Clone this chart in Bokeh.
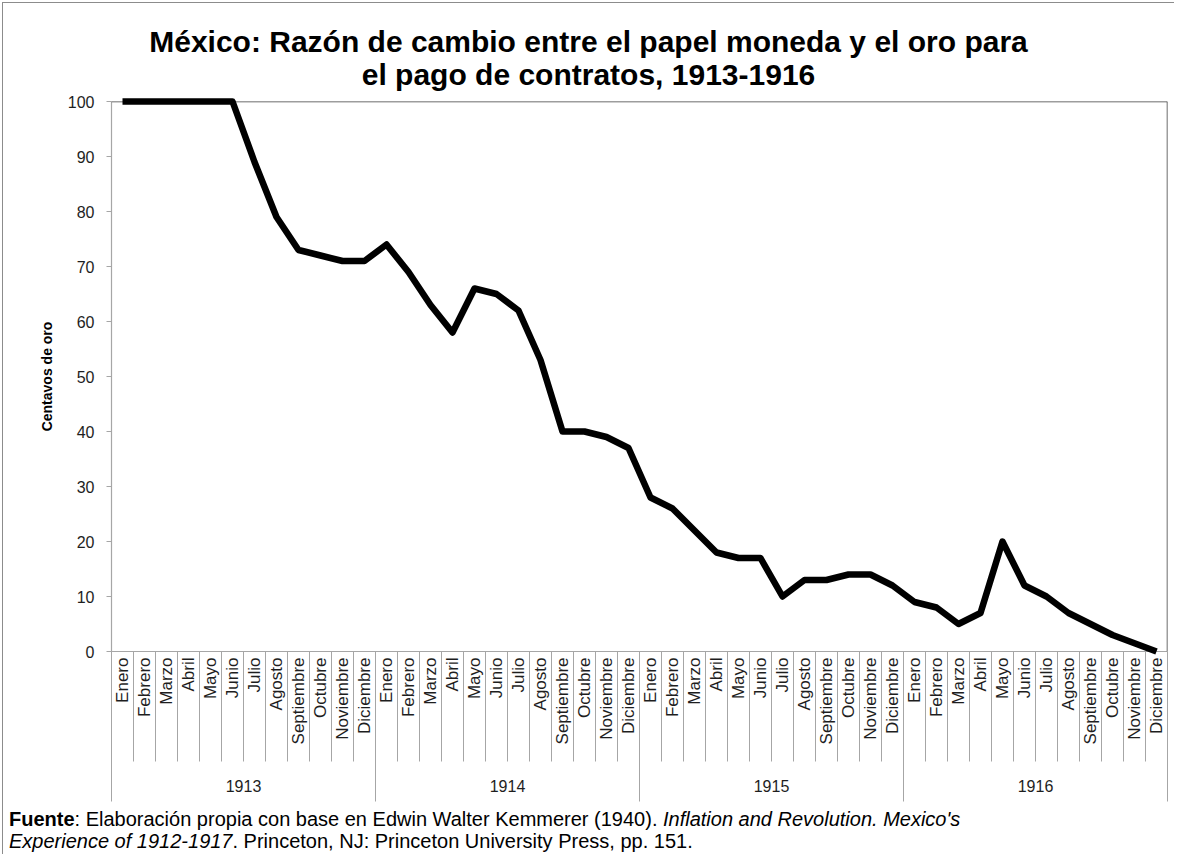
import math
from bokeh.plotting import figure
from bokeh.models import LinearAxis, FixedTicker, Range1d, Div, Span
from bokeh.layouts import column
from bokeh.embed import file_html
from bokeh.resources import INLINE

# ---------------- data ----------------
years = ["1913", "1914", "1915", "1916"]
months = ["Enero", "Febrero", "Marzo", "Abril", "Mayo", "Junio", "Julio",
          "Agosto", "Septiembre", "Octubre", "Noviembre", "Diciembre"]
values_1913 = [100, 100, 100, 100, 100, 100, 89, 79, 73, 72, 71, 71]
values_1914 = [74, 69, 63, 58, 66, 65, 62, 53, 40, 40, 39, 37]
values_1915 = [28, 26, 22, 18, 17, 17, 10, 13, 13, 14, 14, 12]
values_1916 = [9, 8, 5, 7, 20, 12, 10, 7, 5, 3, 1.5, 0]
y_ticks = [0, 10, 20, 30, 40, 50, 60, 70, 80, 90, 100]
title_lines = ["México: Razón de cambio entre el papel moneda y el oro para",
               "el pago de contratos, 1913-1916"]
y_label = "Centavos de oro"

values = values_1913 + values_1914 + values_1915 + values_1916
n = len(values)
nm = len(months)
x_pos = [i + 0.5 for i in range(n)]
month_labels = {i + 0.5: months[i % nm] for i in range(n)}
month_bounds = [float(i) for i in range(n + 1)]
year_centers = [k * nm + nm / 2 for k in range(len(years))]
year_labels = {year_centers[k]: years[k] for k in range(len(years))}
year_bounds = [float(k * nm) for k in range(len(years) + 1)]

FONT = "Liberation Sans"
GRID = "#a6a6a6"
DARK = "#3c3c3c"
TXT = "#1e1e1e"
FRAME_H = 550
MONTH_SEP = 110   # px below the frame
YEAR_SEP = 150    # px below the frame

# ---------------- figure ----------------
p = figure(frame_width=1056, frame_height=FRAME_H,
           x_range=Range1d(0, n), y_range=Range1d(0, 100),
           x_axis_location=None, y_axis_location=None,
           output_backend="svg", toolbar_location=None,
           min_border_left=108, min_border_right=7,
           min_border_top=10, min_border_bottom=155,
           background_fill_color="white", border_fill_color="white",
           margin=(0, 0, 0, 0))
p.outline_line_color = None
p.xgrid.visible = False
p.ygrid.visible = False
# pixel-unit range used for the category separators below the frame
p.extra_y_ranges = {"px": Range1d(0, FRAME_H)}

# separators of the two-level category axis
p.segment(x0=month_bounds, y0=[0] * len(month_bounds),
          x1=month_bounds, y1=[-MONTH_SEP] * len(month_bounds),
          y_range_name="px", line_color=GRID, line_width=1, level="overlay")
p.segment(x0=year_bounds, y0=[0] * len(year_bounds),
          x1=year_bounds, y1=[-YEAR_SEP] * len(year_bounds),
          y_range_name="px", line_color=GRID, line_width=1, level="overlay")

p.line(x_pos, values, line_width=6.5, line_color="black",
       line_join="round", line_cap="butt", level="overlay")

# top / right frame borders
p.add_layout(Span(location=100, dimension="width", line_color=DARK, line_width=1.5))
p.add_layout(Span(location=n, dimension="height", line_color=DARK, line_width=1.5))

# y axis
yax = LinearAxis(ticker=FixedTicker(ticks=y_ticks, minor_ticks=[]),
                 axis_line_color=GRID, axis_line_width=1.2,
                 major_tick_line_color=GRID, major_tick_out=5, major_tick_in=0,
                 minor_tick_out=0, minor_tick_in=0,
                 major_label_text_font=FONT, major_label_text_font_size="16px",
                 major_label_text_color=TXT, major_label_standoff=12,
                 axis_label=y_label, axis_label_text_font=FONT,
                 axis_label_text_font_size="14px", axis_label_text_font_style="bold",
                 axis_label_text_color="#000000", axis_label_standoff=10)
p.add_layout(yax, "left")

# month labels
xax = LinearAxis(ticker=FixedTicker(ticks=x_pos, minor_ticks=[]),
                 major_label_overrides=month_labels,
                 major_label_orientation=math.pi / 2,
                 axis_line_color=GRID, axis_line_width=1.2,
                 major_tick_out=0, major_tick_in=0,
                 minor_tick_out=0, minor_tick_in=0,
                 major_label_text_font=FONT, major_label_text_font_size="17px",
                 major_label_text_color=TXT, major_label_standoff=6)
p.add_layout(xax, "below")

# year labels
yrax = LinearAxis(ticker=FixedTicker(ticks=year_centers, minor_ticks=[]),
                  major_label_overrides=year_labels,
                  axis_line_color=None,
                  major_tick_out=0, major_tick_in=0,
                  minor_tick_out=0, minor_tick_in=0,
                  major_label_text_font=FONT, major_label_text_font_size="16px",
                  major_label_text_color=TXT, major_label_standoff=32)
p.add_layout(yrax, "below")

title_div = Div(
    text=("<div style=\"font-family:'Liberation Sans',Arial,sans-serif;font-weight:bold;"
          "font-size:30px;line-height:33px;text-align:center;color:#000;padding-top:22px;"
          "width:1171px;\">" + title_lines[0] + "<br>" + title_lines[1] + "</div>"),
    width=1171, height=88, margin=(0, 0, 0, 0))

src_div = Div(
    text=("<div style=\"font-family:'Liberation Sans',Arial,sans-serif;font-size:20px;"
          "line-height:22px;color:#000;padding-top:2px;padding-left:6px;width:1165px;\">"
          "<b>Fuente</b>: Elaboración propia con base en Edwin Walter Kemmerer (1940). "
          "<i>Inflation and Revolution. Mexico's<br>Experience of 1912-1917</i>. "
          "Princeton, NJ: Princeton University Press, pp. 151.</div>"),
    width=1171, height=48, margin=(0, 0, 0, 0))

layout = column(title_div, p, src_div, spacing=0,
                margin=(2, 0, 0, 2),
                styles={"border-top": "1px solid #8c8c8c",
                        "border-left": "1px solid #8c8c8c"})

open("out.html", "w").write(file_html(layout, INLINE))
